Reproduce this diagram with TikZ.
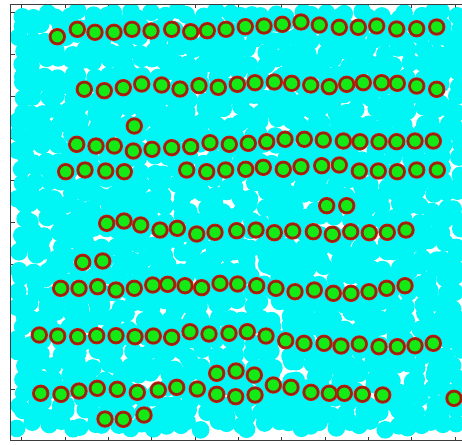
\documentclass[tikz,border=0pt]{standalone}
\definecolor{cyanfill}{RGB}{0,245,245}
\definecolor{ballgreen}{RGB}{20,235,20}
\definecolor{ringdark}{RGB}{150,35,15}
\definecolor{ringout}{RGB}{225,25,5}
\definecolor{framegray}{RGB}{60,60,60}
\tikzset{
  gball/.pic={
    \fill[ringout] (0,0) circle (8.7pt);
    \fill[ringdark] (0,0) circle (8.0pt);
    \fill[ballgreen] (0,0) circle (5.7pt);
  },
  frameline/.style={draw=framegray, line width=0.8pt},
  tickline/.style={draw=framegray, line width=0.6pt}
}
\begin{document}
\begin{tikzpicture}[x=1pt,y=-1pt]
\useasboundingbox (0,0) rectangle (462,444);
\fill[white] (0,0) rectangle (462,444);
% ticks
\foreach \tx in {21.7,65,108.3,151.6,195,238.3,281.6,325,368.3,411.6,455} {
  \draw[tickline] (\tx,4.5) -- (\tx,8.5);
  \draw[tickline] (\tx,440.5) -- (\tx,436.5);
}
\foreach \ty in {12,54,96,138,180,222,264,306,348,389,431} {
  \draw[tickline] (10.5,\ty) -- (14.5,\ty);
}
% cyan background points
\begin{scope}
\clip (11,5) rectangle (462,440);
\pgfmathsetseed{4242}
\foreach \i in {0,...,36} {
  \foreach \j in {0,...,34} {
    \pgfmathsetmacro\cx{21+\i*12.1+4.6*rand}
    \pgfmathsetmacro\cy{14+\j*12.1+4.6*rand}
    \fill[cyanfill] (\cx,\cy) circle (8.8pt);
  }
}
\end{scope}
% frame
\draw[frameline] (462,4.5) -- (10.5,4.5) -- (10.5,440.5) -- (462,440.5);
% green marked points
\foreach \p in {
(57.3,36.7),(77.3,29.3),(95,32.3),(114,32.3),(132,29.3),(151,31),(171.7,29.3),(190.7,31.7),(207.3,30.7),(226,29.3),(245.3,26.7),(264,26),(282.3,24.3),(301,22),(319.3,25),(339.3,27.3),(358.3,27.3),(376.7,26),(396.7,29),(416.7,28.7),(436.7,27),
(84.3,89.3),(104.3,90.7),(123.3,87.7),(141.7,84),(161.7,85),(180,89),(199,85.7),(218.3,87.3),(237.3,84.3),(255,82.7),(274.3,82),(291.7,83.3),(310.7,85),(329.3,86.7),(346.7,84.3),(363.3,82.7),(381.7,82.7),(397.3,83.3),(416.7,86),(436.7,89.3),
(134.3,126),
(76.7,144.3),(96,146),(114.3,146),(133.3,151),(152,149.3),(171.7,147.7),(190.7,146.7),(210,142.7),(229.3,144.3),(248.3,143.3),(266.7,141.7),(285,139.3),(304.3,139.3),(323.3,140),(343.3,141),(360,141.7),(379,141.7),(396.7,141.7),(415,141),(433.3,141),
(65.7,171.7),(85,170),(105.7,171),(124.3,171.7),(186.7,170),(206.7,171.7),(225.7,170),(245.7,169.3),(263.3,167.3),(283.3,169.3),(301,166.7),(321.7,165.7),(339.3,165),(359.3,171),(378.3,171),(397.3,171.7),(416.7,170),(437.3,170),
(326.7,205.7),(346.7,205.7),
(106.7,223.3),(124,221),(140.7,225),(160,230),(177.3,228.3),(196.7,234),(215,232.3),(236.7,230.7),(256,230),(274.3,232.7),(292.7,231),(313.3,231.7),(332.3,234.3),(350.7,231.7),(369.3,232.7),(387.3,232.3),(406,230),
(82.7,262.3),(102.7,261),
(60.7,288.3),(79,288.3),(97.7,286.7),(116,290),(134.3,288.3),(152.7,285),(167.7,284.3),(185,285.7),(201.7,287.7),(220,283.3),(237.7,284),(256.7,285.7),(276,288.3),(295,291.7),(314.3,290),(333.3,293.3),(351,293.3),(369,291.7),(386.7,288.3),(405,285.7),
(39.3,335),(57.7,336),(77.7,336.7),(96.7,335.7),(116,335.7),(135,336.7),(153.3,336),(171.7,337.3),(190,331.7),(209,334),(229,333.3),(247.3,331.7),(266,336),(285.7,340.7),(304,343.3),(324,343.3),(341,346),(359.3,344),(379,346.7),(397.3,346.7),(415,345.7),(433.3,343.3),
(216.7,373.3),(236,371),(254.3,375),
(40.7,393.3),(61,394.3),(79,391),(97.3,388.3),(117.3,389.3),(137.3,392.3),(158.3,390),(176.7,387.3),(197.3,389),(216.7,394.3),(235.7,396.7),(255,395),(273.3,385),(291,387.3),(311,392.3),(329.3,393.3),(344.3,393.3),(362.3,394.3),(382.7,395),(454,398.3),
(105,419),(123.3,419.3),(144,415)
} {
  \pic at \p {gball};
}
\end{tikzpicture}
\end{document}
